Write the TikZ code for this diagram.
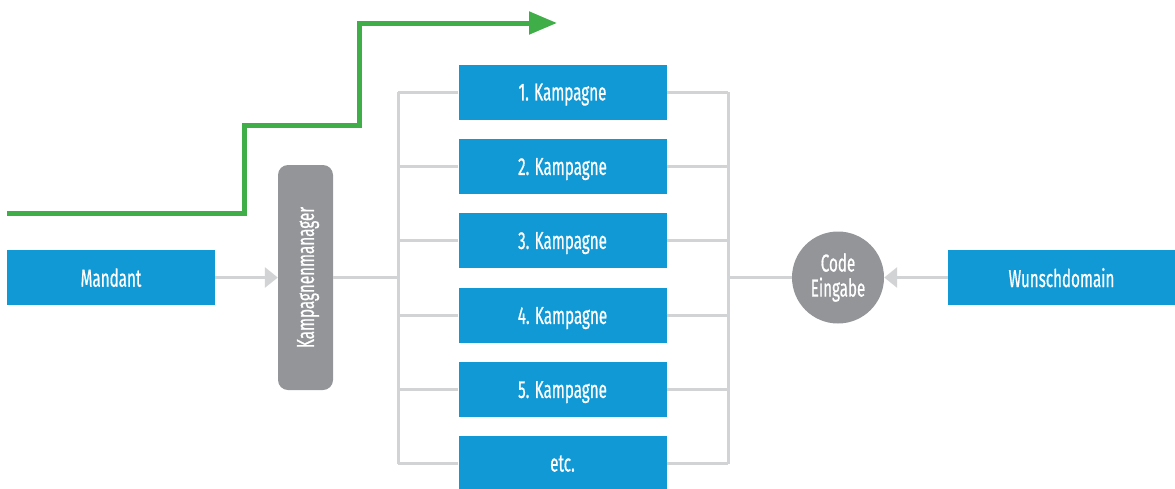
\documentclass[tikz,border=0pt]{standalone}
\usepackage{fontspec}
\setmainfont[FakeStretch=0.62,FakeBold=0.6]{Fira Sans}
\usetikzlibrary{arrows.meta}
\definecolor{kblue}{HTML}{1199D6}
\definecolor{kgray}{HTML}{939598}
\definecolor{kline}{HTML}{D1D3D4}
\definecolor{kgreen}{HTML}{3FAE49}

\begin{document}
\begin{tikzpicture}[x=1pt,y=-1pt,
  font=\fontsize{24.5}{25}\selectfont,
  box/.style={fill=kblue,text=white,minimum width=208pt,minimum height=55pt,inner sep=0pt,text depth=0pt},
  conn/.style={kline,line width=3pt},
  tip/.style={-{Triangle[length=13pt,width=20pt]}}]
\useasboundingbox (0,0) rectangle (1175,488);
% left side
\node [box] (mandant) at (111,277.5) {Mandant};
\node [fill=kgray,text=white,rounded corners=10pt,rotate=90,minimum width=225pt,minimum height=55pt,inner sep=0pt,text depth=0pt] (mgr) at (305.5,277.5) {Kampagnenmanager};
\draw [conn,tip] (mandant) -- (mgr);
% campaigns
\coordinate (lt) at (398,92);
\coordinate (lb) at (398,463.5);
\coordinate (lm) at (398,277.5);
\coordinate (rt) at (728,92);
\coordinate (rb) at (728,463.5);
\coordinate (rm) at (728,277.5);
\draw [conn] (lt) -- (lb);
\draw [conn] (rt) -- (rb);
\foreach \i/\y/\t in {1/92/1. Kampagne,2/166.5/2. Kampagne,3/240.5/3. Kampagne,4/315.5/4. Kampagne,5/389.5/5. Kampagne,6/463.5/etc.}{
  \node [box] (k\i) at (562.5,\y) {\t};
  \draw [conn] (k\i.west) -- (k\i.west -| lt);
  \draw [conn] (k\i.east) -- (k\i.east -| rt);
}
\draw [conn] (mgr) -- (lm);
% right side
\node [circle,fill=kgray,text=white,minimum size=92pt,inner sep=0pt,align=center] (code) at (838,277.5) {Code\\Eingabe};
\node [box,minimum width=227pt] (wunsch) at (1061.5,277.5) {Wunschdomain};
\draw [conn] (rm) -- (code);
\draw [conn,tip] (wunsch) -- (code);
% green path
\coordinate (gs) at (7,213);
\coordinate (ge) at (557,23);
\draw [kgreen,line width=5pt,-{Triangle[length=28pt,width=22pt]}] (gs) -| (244,125) -| (359,23) -- (ge);
\end{tikzpicture}
\end{document}
